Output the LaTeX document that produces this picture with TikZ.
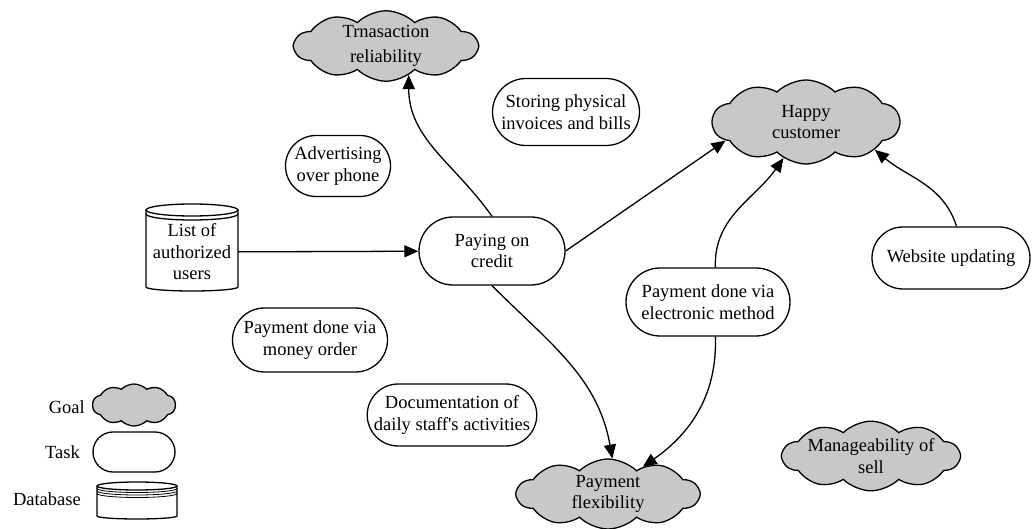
\documentclass[tikz,border=0pt]{standalone}
\usepackage{fontspec}
\setmainfont{Liberation Serif}
\newfontfamily\rawserif{Liberation Serif}
\usetikzlibrary{shapes.symbols,shapes.misc,arrows.meta}
\definecolor{goalgray}{RGB}{200,200,200}
\begin{document}
\begin{tikzpicture}[x=1pt,y=-1pt,
  every node/.style={font=\fontsize{18.5}{21.5}\selectfont},
  goal/.style={cloud, cloud puffs=10, cloud puff arc=90, cloud ignores aspect,
    draw, line width=1.3pt, fill=goalgray, align=center, inner sep=0pt},
  task/.style={rounded rectangle, draw, line width=1.3pt, fill=white, align=center, inner sep=0pt},
  dbline/.style={line width=1.3pt},
  link/.style={line width=1.3pt, -{Triangle[length=14pt,width=12pt]}},
  lbl/.style={anchor=east, inner sep=0pt}]
\useasboundingbox (0,0) rectangle (1034,529);

% goals
\node[goal, minimum width=183pt, minimum height=66pt] (tr) at (386,46) {Trnasaction\\[3pt]reliability};
\node[goal, minimum width=187pt, minimum height=84pt] (happy) at (806,122) {Happy\\customer};
\node[goal, minimum width=182pt, minimum height=70pt] (flex) at (608,494) {Payment\\flexibility};
\node[goal, minimum width=168pt, minimum height=60pt] (manage) at (871,456) {Manageability of\\sell};

% tasks
\node[task, minimum width=147pt, minimum height=67pt] (store) at (566,112) {Storing physical\\invoices and bills};
\node[task, minimum width=105pt, minimum height=61pt] (adv) at (338,166) {Advertising\\over phone};
\node[task, minimum width=146pt, minimum height=68pt] (pay) at (492,251) {Paying on\\credit};
\node[task, minimum width=158pt, minimum height=62pt] (web) at (951,258) {Website updating};
\node[task, minimum width=164pt, minimum height=68pt] (elec) at (708,302) {Payment done via\\electronic method};
\node[task, minimum width=155pt, minimum height=64pt] (money) at (310,340) {Payment done via\\money order};
\node[task, minimum width=165pt, minimum height=62pt] (doc) at (452,415) {Documentation of\\daily staff{\rawserif '}s activities};

% database
\draw[dbline, fill=white] (146,210) -- (146,287) arc[start angle=180, end angle=360, x radius=46pt, y radius=4pt] -- (238,210);
\draw[dbline, fill=white] (192,210) ellipse [x radius=46pt, y radius=6pt];
\draw[dbline] (146,214) arc[start angle=180, end angle=360, x radius=46pt, y radius=6pt];
\node[inner sep=0pt, minimum width=92pt, minimum height=80pt, align=center] (db) at (192,252) {List of\\authorized\\users};

% legend
\node[lbl] (lgoal) at (85,407) {Goal};
\node[goal, minimum width=83pt, minimum height=42pt] (lgcloud) at (134,405) {};
\node[lbl] (ltask) at (80,452) {Task};
\node[task, minimum width=82pt, minimum height=40pt] (ltbox) at (134,452) {};
\node[lbl] (ldb) at (81,499) {Database};
\draw[dbline, fill=white] (97,486) -- (97,516) arc[start angle=180, end angle=360, x radius=40pt, y radius=3pt] -- (177,486);
\draw[dbline, fill=white] (137,486) ellipse [x radius=40pt, y radius=4pt];
\draw[line width=0.8pt] (97,488.5) arc[start angle=180, end angle=360, x radius=40pt, y radius=4pt];
\draw[line width=0.8pt] (97,491) arc[start angle=180, end angle=360, x radius=40pt, y radius=4pt];
\draw[line width=0.8pt] (97,493.5) arc[start angle=180, end angle=360, x radius=40pt, y radius=4pt];

% connectors
\draw[link] (db) -- (pay);
\draw[link] (pay.north) to[out=125, in=-90] (tr.-52);
\draw[link] (pay.east) -- (happy.193);
\draw[link] (pay.south) to[out=-45, in=100] (flex.83);
\draw[link] (elec.78) to[out=92, in=-125] (happy.-122);
\draw[link] (elec.-78) to[out=-88, in=35] (flex.38);
\draw[link] (web.80) to[out=108, in=-40] (happy.-22);
\end{tikzpicture}
\end{document}
